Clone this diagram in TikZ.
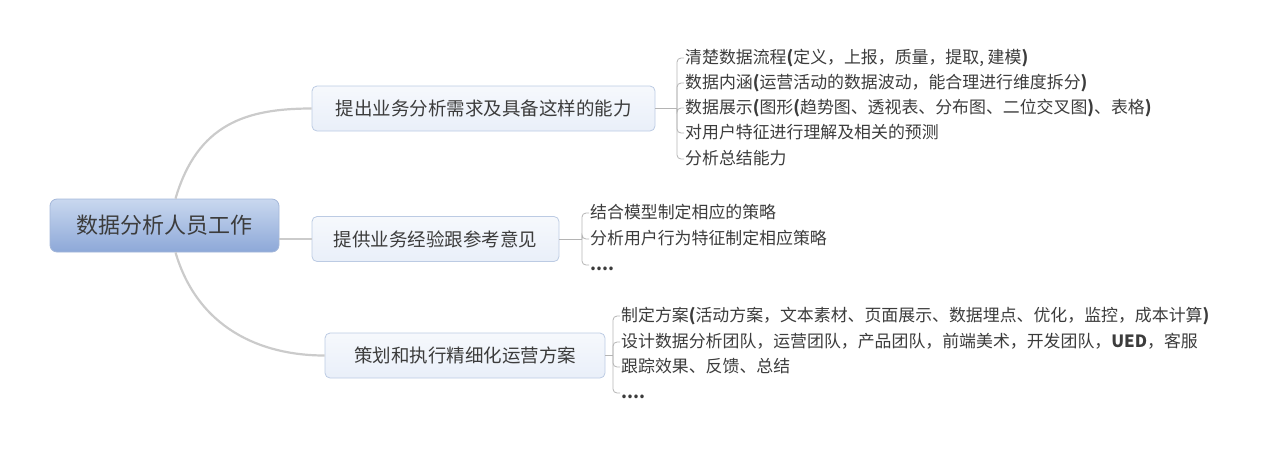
\documentclass[tikz,border=0pt]{standalone}
\usepackage{fontspec}
\setmainfont{Noto Sans CJK SC}
\usetikzlibrary{positioning,calc}
\definecolor{rootTop}{HTML}{C9D8EF}
\definecolor{rootBot}{HTML}{8DA8D8}
\definecolor{rootLine}{HTML}{A4B7D9}
\definecolor{branchFill}{HTML}{E9EFF9}
\definecolor{branchLine}{HTML}{BCCBE3}
\definecolor{trunkGray}{HTML}{CBCBCB}
\definecolor{twigGray}{HTML}{B4B4B4}
\definecolor{textGray}{HTML}{3C3C3C}

\begin{document}
\begin{tikzpicture}[x=1pt,y=-1pt,
trunk/.style = {draw=trunkGray, line width=2.2pt},
twig/.style = {draw=twigGray, line width=0.8pt},
]

\tikzstyle{topic}=[rectangle,rounded corners=7pt,draw=rootLine,thick,top color=rootTop,bottom color=rootBot,minimum width=229pt,minimum height=53pt,font=\fontsize{22}{26}\selectfont,text=textGray]
\tikzstyle{subtopic}=[rectangle,rounded corners=5pt,draw=branchLine,thick,top color=branchFill!40!white,bottom color=branchFill,minimum height=45pt,font=\fontsize{18.5}{22}\selectfont,text=textGray]
\tikzstyle{leaf}=[anchor=west,inner xsep=1pt,inner ysep=0pt,text height=13pt,text depth=3pt,font=\fontsize{16.9}{20}\selectfont,text=textGray]

\useasboundingbox (0,0) rectangle (1266,451);

\node (0R0) [topic] at (164.5,225.5) {数据分析人员工作};
\node (1B0) [subtopic,minimum width=343pt] at (483.5,108.5) {提出业务分析需求及具备这样的能力};
\node (1B1) [subtopic,minimum width=247pt] at (435.5,239) {提供业务经验跟参考意见};
\node (1B2) [subtopic,minimum width=280pt] at (465,355.5) {策划和执行精细化运营方案};

\node (2L0) [leaf] at (684,58) {清楚数据流程\textbf{(}定义，上报，质量，提取, 建模\textbf{)}};
\node (2L1) [leaf] at (684,83) {数据内涵\textbf{(}运营活动的数据波动，能合理进行维度拆分\textbf{)}};
\node (2L2) [leaf] at (684,108) {数据展示\textbf{(}图形\textbf{(}趋势图、透视表、分布图、二位交叉图\textbf{)}、表格\textbf{)}};
\node (2L3) [leaf] at (684,133) {对用户特征进行理解及相关的预测};
\node (2L4) [leaf] at (684,159) {分析总结能力};

\node (2L5) [leaf] at (589,213) {结合模型制定相应的策略};
\node (2L6) [leaf] at (589,239) {分析用户行为特征制定相应策略};
\node (2L7) [leaf] at (589,265) {\textbf{....}};

\node (2L8) [leaf] at (620,316) {制定方案\textbf{(}活动方案，文本素材、页面展示、数据埋点、优化，监控，成本计算\textbf{)}};
\node (2L9) [leaf] at (620,342) {设计数据分析团队，运营团队，产品团队，前端美术，开发团队，\textbf{UED}，客服};
\node (2L10) [leaf] at (620,367) {跟踪效果、反馈、总结};
\node (2L11) [leaf] at (620,393) {\textbf{....}};

% root to topics
\draw[trunk] ([xshift=11pt]0R0.north) .. controls +(22,-75) and +(-65,0) .. (1B0.west);
\draw[trunk] (0R0.east |- 1B1.west) -- (1B1.west);
\draw[trunk] ([xshift=11pt]0R0.south) .. controls +(22,75) and +(-65,0) .. (1B2.west);

% topics to leaves
\coordinate (j0) at ([xshift=-7pt]2L0.west |- 1B0.east);
\coordinate (j1) at ([xshift=-7pt]2L5.west |- 1B1.east);
\coordinate (j2) at ([xshift=-7pt]2L8.west |- 1B2.east);
\draw[twig] (1B0.east) -- (j0);
\draw[twig] (1B1.east) -- (j1);
\draw[twig] (1B2.east) -- (j2);
\foreach \n in {2L0,2L1,2L2,2L3,2L4} \draw[twig,rounded corners=4pt] (j0) |- (\n.west);
\foreach \n in {2L5,2L6,2L7} \draw[twig,rounded corners=4pt] (j1) |- (\n.west);
\foreach \n in {2L8,2L9,2L10,2L11} \draw[twig,rounded corners=4pt] (j2) |- (\n.west);
\end{tikzpicture}
\end{document}
